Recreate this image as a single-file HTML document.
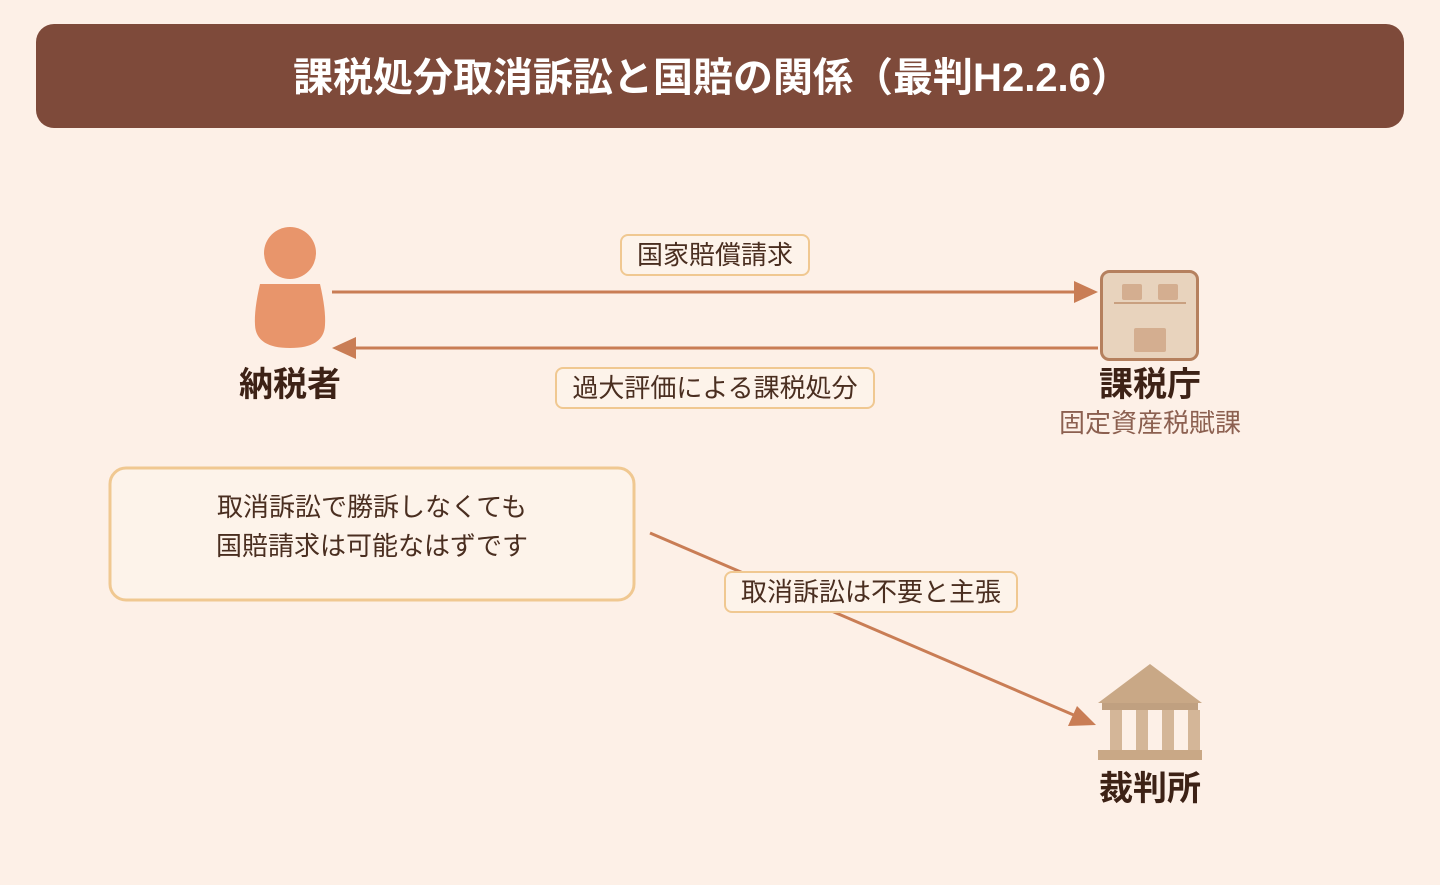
<!DOCTYPE html>
<html><head><meta charset="utf-8"><style>
html,body{margin:0;padding:0;background:#fdf0e7;}
body{width:1440px;height:880px;overflow:hidden;}
svg text{font-family:"Liberation Sans","Noto Sans CJK JP",sans-serif;}
</style></head><body>
<svg width="1440" height="880" viewBox="0 0 1440 880" xmlns="http://www.w3.org/2000/svg">
<rect width="1440" height="880" fill="#fdf0e7"/>
<rect x="36" y="24" width="1368" height="104" rx="18" fill="#7e4a3a"/>
<text x="712" y="91" text-anchor="middle" font-size="40" font-weight="bold" fill="#fff">課税処分取消訴訟と国賠の関係（最判H2.2.6）</text>

<circle cx="290" cy="253" r="26" fill="#e8956b"/>
<path d="M260 284 H320 Q326 310 325 325 Q324 348 290 348 Q256 348 255 325 Q254 310 260 284 Z" fill="#e8956b"/>
<text x="290" y="396" text-anchor="middle" font-size="34" font-weight="bold" fill="#3d2216">納税者</text>

<line x1="332" y1="292" x2="1078" y2="292" stroke="#c97d55" stroke-width="3"/>
<polygon points="1098,292 1074,281 1074,303" fill="#c97d55"/>
<line x1="354" y1="348" x2="1098" y2="348" stroke="#c97d55" stroke-width="3"/>
<polygon points="332,348 356,337 356,359" fill="#c97d55"/>
<line x1="650" y1="533" x2="1076" y2="716" stroke="#c97d55" stroke-width="3"/>
<polygon points="1096,725 1068,726 1077,706" fill="#c97d55"/>

<rect x="621" y="235" width="188" height="40" rx="7" fill="#fdf3ea" stroke="#f0c891" stroke-width="2"/>
<text x="715" y="264" text-anchor="middle" font-size="26" fill="#4a2e20">国家賠償請求</text>
<rect x="556" y="368" width="318" height="40" rx="7" fill="#fdf3ea" stroke="#f0c891" stroke-width="2"/>
<text x="715" y="397" text-anchor="middle" font-size="26" fill="#4a2e20">過大評価による課税処分</text>

<rect x="1101.5" y="271.5" width="96" height="88" rx="8" fill="#e8d3bd" stroke="#b5805e" stroke-width="3"/>
<rect x="1122" y="284" width="20" height="16" rx="2" fill="#d4ae90"/>
<rect x="1158" y="284" width="20" height="16" rx="2" fill="#d4ae90"/>
<line x1="1114" y1="303" x2="1186" y2="303" stroke="#c9a080" stroke-width="2"/>
<rect x="1134" y="328" width="32" height="24" rx="2" fill="#d4ae90"/>
<text x="1150" y="396" text-anchor="middle" font-size="34" font-weight="bold" fill="#3d2216">課税庁</text>
<text x="1150" y="432" text-anchor="middle" font-size="26" fill="#8c6050">固定資産税賦課</text>

<rect x="110" y="468" width="524" height="132" rx="16" fill="#fdf3ea" stroke="#f0c891" stroke-width="3"/>
<text x="372" y="516" text-anchor="middle" font-size="26" fill="#4a2e20">取消訴訟で勝訴しなくても</text>
<text x="372" y="555" text-anchor="middle" font-size="26" fill="#4a2e20">国賠請求は可能なはずです</text>

<rect x="725" y="572" width="292" height="40" rx="7" fill="#fdf3ea" stroke="#f0c891" stroke-width="2"/>
<text x="871" y="601" text-anchor="middle" font-size="26" fill="#4a2e20">取消訴訟は不要と主張</text>

<polygon points="1150,664 1202,703 1098,703" fill="#c9a886"/>
<rect x="1102" y="703" width="96" height="7" fill="#c0a080"/>
<rect x="1110" y="710" width="12" height="40" fill="#d4b698"/>
<rect x="1136" y="710" width="12" height="40" fill="#d4b698"/>
<rect x="1162" y="710" width="12" height="40" fill="#d4b698"/>
<rect x="1188" y="710" width="12" height="40" fill="#d4b698"/>
<rect x="1098" y="750" width="104" height="10" fill="#c9a886"/>
<text x="1150" y="800" text-anchor="middle" font-size="34" font-weight="bold" fill="#3d2216">裁判所</text>
</svg>
</body></html>
